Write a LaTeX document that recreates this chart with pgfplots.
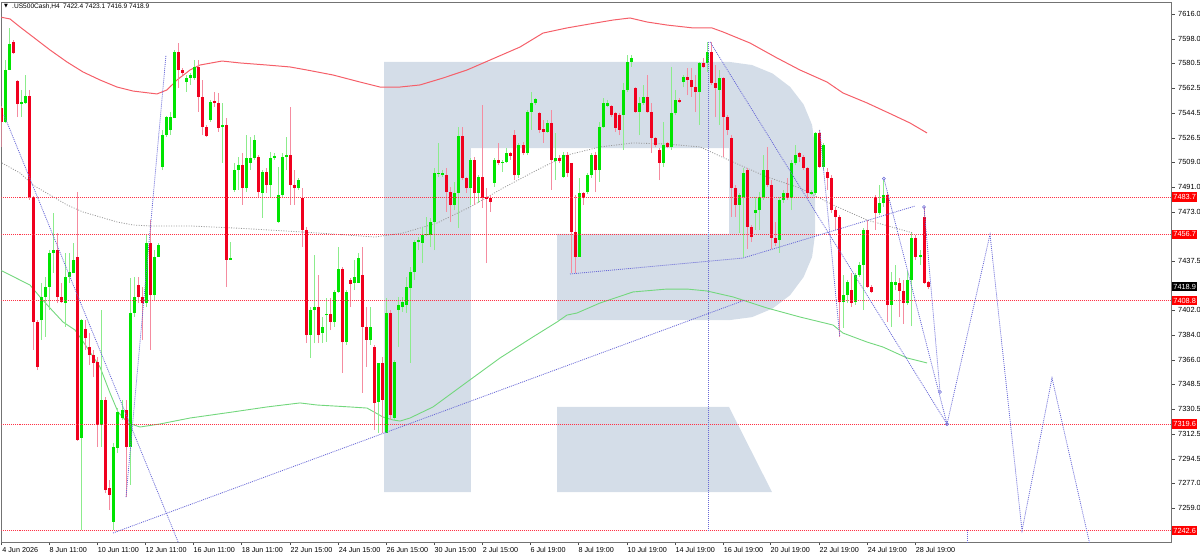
\documentclass[border=0pt]{standalone}
\usepackage{fontspec}
\setmainfont{Liberation Sans}
\newfontfamily\dejavu{DejaVu Sans}
\usepackage{pgfplots}
\pgfplotsset{compat=1.18}
\usepackage{pgfplotstable}

\definecolor{upbody}{RGB}{0,228,0}
\definecolor{upwick}{RGB}{140,236,140}
\definecolor{dnbody}{RGB}{240,0,30}
\definecolor{dnwick}{RGB}{245,140,160}
\definecolor{logo}{RGB}{212,221,232}
\definecolor{maRed}{RGB}{245,95,105}
\definecolor{maGreen}{RGB}{115,215,125}
\definecolor{maGrey}{RGB}{150,150,150}
\definecolor{trend}{RGB}{105,105,215}
\definecolor{lvl}{RGB}{255,50,70}

% up candles: index open high low close
\pgfplotstableread{
i o h l c
1 7537.9 7582.7 7537.2 7575.5
2 7575.5 7605.9 7575.5 7594.3
5 7550.9 7561.1 7541.5 7552.4
6 7551.7 7571.9 7550.9 7556.7
10 7394.8 7421.6 7380.4 7411.5
11 7411.5 7425.9 7382.6 7418.7
12 7418.7 7445.4 7402.1 7443.3
13 7443.3 7472.2 7428.8 7445.4
16 7407.1 7443.3 7389.8 7425.9
17 7425.9 7443.3 7421.6 7429.5
18 7428.8 7450.5 7428.8 7438.2
20 7309.6 7395.5 7243.1 7394.8
25 7319.0 7402.1 7303.1 7337.0
28 7248.9 7305.9 7243.1 7303.1
29 7302.3 7331.2 7298.7 7328.4
30 7324.0 7337.0 7322.6 7329.8
32 7303.1 7425.2 7275.6 7399.9
33 7399.9 7425.9 7397.0 7411.5
36 7407.1 7456.3 7404.2 7450.5
38 7412.9 7445.4 7409.3 7440.4
39 7440.4 7450.5 7440.4 7449.0
40 7505.4 7532.2 7503.2 7528.5
41 7528.5 7542.0 7527.1 7541.5
42 7532.2 7545.2 7528.5 7541.5
43 7540.8 7590.0 7540.8 7588.5
46 7566.8 7571.9 7559.6 7569.7
47 7569.7 7573.3 7564.7 7571.9
48 7569.7 7582.7 7568.3 7577.7
52 7539.4 7553.8 7537.9 7552.4
55 7534.3 7551.7 7508.3 7535.8
57 7438.2 7451.2 7438.2 7439.6
58 7488.8 7508.3 7487.3 7503.2
59 7503.2 7512.6 7488.8 7506.8
61 7490.2 7528.5 7487.3 7511.9
62 7508.3 7527.1 7503.2 7511.9
63 7511.9 7528.5 7510.5 7524.9
65 7486.6 7503.2 7468.6 7501.8
67 7492.4 7516.3 7483.7 7511.9
68 7511.9 7515.5 7510.5 7513.4
69 7465.7 7505.4 7464.9 7485.2
70 7485.2 7515.5 7483.0 7512.6
71 7512.6 7527.1 7503.2 7514.0
74 7490.2 7497.5 7488.8 7496.0
77 7384.0 7404.2 7367.4 7402.1
78 7402.1 7441.8 7378.2 7404.2
80 7385.4 7397.0 7378.2 7389.8
81 7398.4 7410.7 7378.9 7399.2
83 7393.4 7416.5 7389.8 7415.1
84 7415.1 7447.6 7414.3 7431.7
86 7378.9 7416.5 7376.8 7415.1
88 7421.6 7438.2 7416.5 7425.9
89 7421.6 7443.3 7421.6 7439.6
92 7380.4 7404.2 7376.8 7389.8
94 7335.6 7363.8 7313.2 7363.8
96 7313.2 7410.7 7313.2 7399.9
98 7324.0 7365.9 7322.6 7364.5
99 7402.1 7411.5 7375.3 7405.7
100 7404.2 7411.5 7400.6 7407.8
101 7405.7 7425.9 7399.9 7418.7
102 7418.0 7433.1 7363.8 7429.5
103 7429.5 7452.7 7423.7 7451.2
104 7451.2 7454.8 7445.4 7452.7
105 7450.5 7462.1 7436.0 7456.3
106 7456.3 7469.3 7455.5 7457.0
107 7456.3 7468.6 7447.6 7465.7
108 7465.7 7504.7 7445.4 7501.1
109 7500.3 7522.8 7498.2 7501.1
110 7499.6 7503.2 7498.2 7501.1
113 7478.0 7494.6 7474.3 7486.6
114 7486.6 7534.3 7461.3 7527.8
117 7490.2 7511.9 7478.0 7510.5
119 7486.6 7499.6 7479.4 7498.2
123 7493.9 7511.9 7491.0 7510.5
125 7508.3 7510.5 7501.8 7509.0
126 7509.0 7519.1 7508.3 7515.5
129 7499.6 7522.8 7497.5 7521.3
131 7515.5 7546.6 7514.0 7545.2
132 7545.2 7559.6 7532.2 7551.7
133 7551.7 7555.3 7550.2 7554.6
136 7530.7 7539.4 7529.9 7537.2
138 7509.7 7529.9 7496.0 7511.9
140 7498.2 7516.3 7497.5 7514.0
144 7440.4 7497.5 7440.4 7486.6
146 7487.3 7501.1 7485.9 7499.6
147 7499.6 7515.5 7497.5 7514.0
149 7503.2 7537.9 7494.6 7534.3
150 7534.3 7555.3 7533.6 7551.7
151 7549.5 7553.8 7548.8 7551.7
155 7542.9 7566.1 7517.7 7561.1
156 7561.1 7586.4 7559.6 7581.3
157 7581.3 7586.4 7577.7 7584.2
159 7545.2 7556.0 7528.5 7551.7
160 7551.7 7564.7 7550.2 7556.0
165 7508.3 7537.9 7505.4 7521.3
167 7519.9 7577.7 7517.7 7544.4
168 7544.4 7561.1 7542.9 7553.8
170 7566.8 7571.9 7563.2 7570.5
174 7559.6 7581.3 7535.8 7580.6
176 7580.6 7595.8 7574.1 7588.5
179 7561.1 7575.5 7535.8 7569.7
184 7478.0 7486.6 7457.7 7485.2
185 7483.7 7504.7 7440.4 7501.1
188 7472.2 7483.7 7459.9 7474.3
189 7474.3 7487.3 7459.9 7483.7
190 7483.7 7514.0 7481.6 7503.2
194 7452.7 7483.7 7443.3 7481.6
195 7481.6 7488.8 7479.4 7486.6
197 7483.0 7510.5 7474.3 7508.3
198 7508.3 7521.3 7506.8 7514.0
202 7485.9 7488.8 7485.2 7487.3
203 7486.6 7530.7 7485.2 7529.9
205 7505.4 7522.8 7503.2 7521.3
210 7407.8 7427.4 7389.1 7412.9
211 7412.9 7423.7 7407.1 7422.3
213 7407.8 7428.8 7405.7 7427.4
214 7427.4 7436.8 7425.9 7434.6
215 7434.6 7461.3 7402.1 7459.9
219 7472.2 7492.4 7470.7 7479.4
220 7479.4 7496.0 7476.5 7485.2
222 7405.7 7429.5 7389.8 7422.3
223 7420.1 7434.6 7416.5 7422.3
226 7407.1 7430.2 7405.7 7423.7
227 7423.7 7457.7 7390.4 7454.1
229 7440.4 7445.4 7434.6 7441.8
}\upc

% down candles: index open high low close
\pgfplotstableread{
i o h l c
0 7548.1 7549.5 7519.9 7537.9
3 7595.8 7597.2 7587.1 7587.8
4 7567.6 7568.3 7541.5 7550.9
7 7556.7 7561.1 7481.6 7483.7
8 7483.7 7484.5 7373.2 7393.4
9 7393.4 7394.8 7358.7 7360.9
14 7445.4 7457.7 7407.1 7411.5
15 7411.5 7421.6 7407.1 7407.8
19 7440.4 7487.3 7307.4 7308.1
21 7388.3 7394.8 7373.2 7381.8
22 7375.3 7385.4 7362.3 7369.5
23 7369.5 7373.2 7353.6 7363.8
24 7364.5 7368.1 7303.1 7319.0
26 7337.0 7339.2 7269.8 7272.0
27 7273.4 7279.2 7257.5 7268.4
31 7329.8 7337.0 7266.9 7303.1
34 7420.1 7425.9 7407.1 7411.5
35 7411.5 7418.7 7380.4 7407.1
37 7450.5 7467.1 7373.2 7412.9
44 7588.5 7595.0 7562.5 7575.5
45 7575.5 7577.0 7571.9 7573.3
49 7577.7 7582.7 7545.2 7556.0
50 7556.0 7568.3 7528.5 7534.3
51 7534.3 7535.8 7527.1 7527.8
53 7553.1 7559.6 7548.8 7551.7
54 7551.7 7558.9 7530.7 7533.6
56 7535.8 7540.8 7418.7 7438.2
60 7506.8 7515.5 7478.0 7490.2
64 7512.6 7514.0 7483.7 7487.3
66 7501.8 7504.7 7486.6 7492.4
72 7514.0 7548.8 7478.0 7492.4
73 7492.4 7503.2 7478.0 7490.2
75 7483.0 7490.2 7447.6 7459.9
76 7459.9 7462.1 7378.2 7384.0
79 7404.2 7427.4 7378.2 7384.0
82 7399.2 7410.7 7387.6 7393.4
85 7431.7 7433.1 7356.5 7378.9
87 7423.7 7425.2 7404.2 7420.9
90 7427.4 7447.6 7342.1 7389.8
91 7389.8 7404.2 7360.9 7380.4
93 7375.3 7376.8 7315.3 7334.9
95 7363.8 7368.1 7313.2 7337.0
97 7399.9 7402.1 7322.6 7326.2
111 7499.6 7504.7 7472.9 7487.3
112 7487.3 7491.0 7465.7 7478.0
115 7527.8 7534.3 7496.0 7497.5
116 7497.5 7498.2 7486.6 7490.2
118 7510.5 7512.6 7478.0 7486.6
120 7498.2 7550.2 7475.8 7483.0
121 7483.7 7490.2 7436.0 7482.3
122 7483.0 7485.2 7472.9 7480.1
124 7510.5 7522.8 7506.8 7508.3
127 7515.5 7516.3 7510.5 7513.4
128 7528.5 7532.2 7496.0 7499.6
130 7521.3 7523.5 7514.0 7515.5
134 7544.4 7545.2 7529.9 7532.2
135 7532.9 7539.4 7522.8 7530.7
137 7537.2 7546.6 7488.8 7510.5
139 7511.9 7514.0 7508.3 7509.7
141 7514.0 7516.3 7498.2 7501.1
142 7508.3 7508.3 7428.8 7458.4
143 7458.4 7485.2 7428.8 7440.4
145 7486.6 7487.3 7478.0 7483.0
148 7514.0 7516.3 7487.3 7503.2
152 7549.5 7550.2 7541.5 7542.9
153 7544.4 7545.2 7530.7 7533.6
154 7542.9 7544.4 7528.5 7532.2
158 7562.5 7563.2 7544.5 7545.2
161 7556.0 7571.9 7544.5 7545.2
162 7545.2 7551.7 7515.5 7526.4
163 7526.4 7527.1 7519.9 7521.3
164 7517.7 7519.1 7496.0 7508.3
166 7522.8 7523.5 7519.1 7519.9
169 7553.8 7555.3 7551.7 7552.4
171 7570.5 7577.0 7557.4 7568.3
172 7568.3 7577.0 7556.0 7563.2
173 7563.2 7571.9 7545.2 7559.6
175 7580.6 7584.2 7577.0 7577.7
177 7588.5 7595.8 7564.7 7566.1
178 7566.1 7579.1 7541.5 7562.5
180 7569.7 7570.5 7512.6 7541.5
181 7541.5 7542.9 7528.5 7532.2
182 7526.4 7528.5 7469.3 7490.2
183 7490.2 7492.4 7469.3 7478.0
186 7503.2 7504.7 7446.3 7462.1
187 7462.1 7463.5 7451.2 7454.8
191 7503.2 7519.9 7491.0 7492.4
192 7492.4 7495.8 7446.3 7454.1
193 7454.1 7465.7 7448.5 7450.5
196 7486.6 7497.5 7481.6 7483.0
199 7515.5 7516.3 7509.0 7512.6
200 7512.6 7514.0 7503.2 7504.7
201 7504.7 7505.4 7483.0 7486.6
204 7529.9 7532.2 7504.7 7505.4
206 7501.8 7504.7 7488.8 7497.5
207 7497.5 7499.6 7472.2 7474.3
208 7474.3 7476.5 7459.9 7469.3
209 7469.3 7470.7 7382.6 7407.8
212 7416.5 7428.8 7404.2 7407.1
216 7459.9 7467.1 7418.0 7418.7
217 7418.7 7420.1 7414.3 7415.1
218 7483.7 7485.2 7459.9 7472.2
221 7485.2 7487.3 7393.4 7405.7
224 7421.6 7425.2 7397.0 7415.8
225 7415.8 7423.7 7392.0 7407.1
228 7454.1 7456.3 7438.2 7440.4
230 7469.3 7476.5 7421.0 7421.6
231 7422.4 7423.1 7416.9 7418.9
}\dnc

\begin{document}
\begin{tikzpicture}
\useasboundingbox (-1.5pt,-13pt) rectangle (1198.5pt,542pt);
\begin{axis}[
  scale only axis, width=1170pt, height=540pt,
  xmin=-0.05, xmax=291.72, ymin=7234.4, ymax=7624.65,
  clip mode=individual,
  axis line style={draw=black!55, line width=0.8pt},
  tick align=outside, major tick length=3pt,
  tick style={black!70, line width=0.6pt},
  xtick pos=bottom, ytick pos=right, yticklabel pos=right,
  ytick={7259,7277,7294.5,7312.5,7330.5,7348.5,7366,7384,7402,7437.5,7473,7491,7509,7526.5,7544.5,7562.5,7580.5,7598,7616},
  yticklabels={7259.0,7277.0,7294.5,7312.5,7330.5,7348.5,7366.0,7384.0,7402.0,7437.5,7473.0,7491.0,7509.0,7526.5,7544.5,7562.5,7580.5,7598.0,7616.0},
  yticklabel style={font=\fontsize{7.4}{8.5}\selectfont, anchor=west, inner sep=0pt, xshift=3.5pt},
  xtick={0,11.8,23.8,35.7,47.7,59.7,71.9,83.9,95.8,107.8,119.8,131.7,143.7,155.9,167.9,179.9,191.6,203.8,215.8,227.8},
  xticklabels={4 Jun 2026,8 Jun 11:00,10 Jun 11:00,12 Jun 11:00,16 Jun 11:00,18 Jun 11:00,22 Jun 15:00,24 Jun 15:00,26 Jun 15:00,30 Jun 15:00,2 Jul 15:00,6 Jul 19:00,8 Jul 19:00,10 Jul 19:00,14 Jul 19:00,16 Jul 19:00,20 Jul 19:00,22 Jul 19:00,24 Jul 19:00,28 Jul 19:00},
  xticklabel style={font=\fontsize{7.2}{8.5}\selectfont, anchor=north west, inner sep=0pt, xshift=0.5pt, yshift=-2.5pt},
]
% background logo
\addplot[fill=logo, draw=none, forget plot] coordinates {
 (95.34,7581.3) (181.62,7581.3) (187.11,7579.1) (192.22,7573.0) (196.61,7563.3)
 (199.98,7550.6) (202.09,7535.8) (202.82,7519.9) (202.82,7456.3) (202.09,7440.4)
 (199.98,7425.9) (196.61,7412.8) (192.22,7403.1) (187.11,7396.9) (181.62,7394.8)
 (138.48,7394.8) (138.48,7457.0) (181.37,7457.0) (181.37,7519.1) (117.03,7519.1)
 (117.03,7270.5) (95.34,7270.5)} -- cycle;
\addplot[fill=logo, draw=none, forget plot] coordinates {
 (138.48,7332.0) (181.37,7332.0) (192.09,7270.5) (138.48,7270.5)} -- cycle;

% moving averages
\addplot[maRed, line width=1pt, forget plot] coordinates {
 (-0.42,7613.8) (2.07,7612.4) (4.56,7606.6) (7.81,7599.4) (12.04,7590.0) (16.28,7581.3)
 (20.27,7574.1) (24.51,7568.3) (28.75,7563.2) (32.74,7560.3) (38.73,7558.2) (41.22,7561.1)
 (43.72,7568.3) (46.96,7575.5) (49.45,7579.1) (54.94,7582.0) (59.43,7580.6) (66.16,7579.1)
 (71.90,7577.7) (76.13,7575.5) (82.62,7571.9) (89.36,7566.8) (94.34,7563.2) (99.33,7563.2)
 (104.31,7564.7) (110.05,7569.7) (116.03,7575.5) (121.77,7582.7) (129.25,7592.1) (134.99,7602.2)
 (140.97,7605.9) (146.71,7608.8) (152.44,7611.6) (156.68,7613.1) (160.92,7610.2) (165.91,7608.0)
 (172.39,7605.9) (177.13,7605.9) (179.88,7603.0) (186.61,7595.0) (193.34,7584.2) (199.08,7575.5)
 (205.81,7566.8) (209.80,7558.9) (215.79,7551.7) (222.27,7543.0) (226.51,7537.2) (230.75,7530.0)};
\addplot[maGreen, line width=0.9pt, forget plot] coordinates {
 (-0.42,7431.0) (7.06,7420.1) (9.55,7411.5) (12.04,7403.5) (15.29,7393.4) (18.28,7387.6)
 (20.02,7380.4) (22.02,7371.7) (24.51,7360.9) (27.01,7342.1) (29.0,7328.4) (31.5,7320.4)
 (34.49,7317.5) (39.48,7319.7) (46.96,7324.0) (57.68,7328.4) (66.16,7332.0) (74.39,7334.9)
 (78.63,7333.4) (86.86,7332.0) (91.1,7331.2) (95.09,7324.7) (97.58,7322.6) (99.33,7321.8)
 (101.82,7324.0) (107.56,7332.0) (116.03,7350.0) (124.27,7367.4) (132.49,7382.6) (138.48,7393.4)
 (140.97,7398.4) (143.47,7399.9) (149.2,7407.1) (157.43,7415.1) (165.91,7417.2) (170.9,7417.2)
 (175.89,7415.8) (182.37,7411.5) (190.85,7403.5) (199.08,7397.0) (207.31,7391.2) (209.8,7385.4)
 (215.79,7378.9) (219.78,7375.3) (225.77,7367.4) (230.75,7363.8)};
\addplot[maGrey, line width=0.8pt, dash pattern=on 1pt off 1.5pt, forget plot] coordinates {
 (0.07,7508.3) (4.56,7501.1) (7.81,7492.4) (12.04,7485.2) (16.28,7478.0) (20.27,7472.9)
 (24.51,7469.3) (28.75,7465.7) (32.74,7463.5) (36.98,7462.8) (46.96,7462.8) (58.18,7461.3)
 (70.65,7459.2) (78.88,7457.7) (93.09,7454.8) (100.07,7457.7) (108.55,7464.9) (116.78,7476.5)
 (125.01,7490.2) (133.49,7503.2) (140.97,7514.0) (149.2,7519.9) (157.43,7522.8) (165.91,7522.0)
 (174.14,7519.9) (182.37,7509.0) (190.85,7498.2) (199.08,7490.2) (207.31,7478.0) (215.79,7467.1)
 (227.26,7457.7)};

% candle wicks
\addplot[draw=none, mark=none, forget plot, error bars/.cd, y dir=plus, y explicit, error mark=none,
  error bar style={draw=upwick, line width=1pt}]
  table[x=i, y=l, y error expr={\thisrow{h}-\thisrow{l}}] {\upc};
\addplot[draw=none, mark=none, forget plot, error bars/.cd, y dir=plus, y explicit, error mark=none,
  error bar style={draw=dnwick, line width=1pt}]
  table[x=i, y=l, y error expr={\thisrow{h}-\thisrow{l}}] {\dnc};
% candle bodies
\addplot[draw=none, mark=none, forget plot, error bars/.cd, y dir=plus, y explicit, error mark=none,
  error bar style={draw=upbody, line width=3pt}]
  table[x=i, y=o, y error expr={max(\thisrow{c}-\thisrow{o},0.6)}] {\upc};
\addplot[draw=none, mark=none, forget plot, error bars/.cd, y dir=plus, y explicit, error mark=none,
  error bar style={draw=dnbody, line width=3pt}]
  table[x=i, y=c, y error expr={max(\thisrow{o}-\thisrow{c},0.6)}] {\dnc};

% horizontal levels
\addplot[lvl, line width=0.9pt, dash pattern=on 1pt off 1pt, forget plot] coordinates {(-0.05,7483.7) (291.72,7483.7)};
\addplot[lvl, line width=0.9pt, dash pattern=on 1pt off 1pt, forget plot] coordinates {(-0.05,7456.7) (291.72,7456.7)};
\addplot[lvl, line width=0.9pt, dash pattern=on 1pt off 1pt, forget plot] coordinates {(-0.05,7408.8) (291.72,7408.8)};
\addplot[lvl, line width=0.9pt, dash pattern=on 1pt off 1pt, forget plot] coordinates {(-0.05,7319.6) (291.72,7319.6)};
\addplot[lvl, line width=0.9pt, dash pattern=on 1pt off 1pt, forget plot] coordinates {(-0.05,7242.6) (291.72,7242.6)};

% trend / forecast lines
\addplot[trend, line width=0.8pt, dash pattern=on 1pt off 1pt, forget plot] coordinates {(0.57,7543.0) (44.5,7230.8)};
\addplot[trend, line width=0.8pt, dash pattern=on 1pt off 1pt, forget plot] coordinates {(31.0,7266.9) (40.97,7586.4)};
\addplot[trend, line width=0.8pt, dash pattern=on 1pt off 1pt, forget plot] coordinates {(27.76,7240.9) (185.36,7409.3)};
\addplot[trend, line width=0.8pt, dash pattern=on 1pt off 1pt, forget plot] coordinates {(141.72,7428.1) (184.86,7439.6) (227.77,7477.2)};
\addplot[trend, line width=0.8pt, dash pattern=on 1pt off 1pt, forget plot] coordinates {(176.13,7595.8) (176.13,7243.1)};
\addplot[trend, line width=0.8pt, dash pattern=on 1pt off 1pt, forget plot] coordinates {(176.63,7595.8) (235.74,7319.6)};
\addplot[trend, line width=0.8pt, dash pattern=on 1pt off 1pt, forget plot] coordinates {(204,7532.2) (209,7382.6)};
\addplot[trend, line width=0.8pt, dash pattern=on 1pt off 1pt, forget plot] coordinates {(220,7497.0) (235.74,7319.6)};
\addplot[trend, line width=0.8pt, dash pattern=on 1pt off 1pt, forget plot] coordinates {(230,7476.5) (234,7342.8)};
\addplot[trend, line width=0.8pt, dash pattern=on 1pt off 1pt, forget plot] coordinates {(235.74,7319.6) (246.46,7456.7) (254.44,7242.6) (261.92,7352.9) (271.4,7232.2)};
\addplot[trend, line width=0.8pt, dash pattern=on 1pt off 1pt, forget plot] coordinates {(240.73,7243.1) (240.73,7232.0)};
\addplot[trend, only marks, mark=o, mark size=1.5pt, mark options={line width=0.6pt}, forget plot] coordinates {(220,7497.0) (230,7476.5) (235.74,7319.6) (234,7342.8)};

% price labels on the scale
\node[anchor=west, fill=red, text=white, inner sep=0pt, minimum width=25pt, minimum height=9.5pt, font=\fontsize{7.4}{8}\selectfont] at (axis cs:291.72,7483.7) [xshift=0.5pt] {7483.7};
\node[anchor=west, fill=red, text=white, inner sep=0pt, minimum width=25pt, minimum height=9.5pt, font=\fontsize{7.4}{8}\selectfont] at (axis cs:291.72,7456.7) [xshift=0.5pt] {7456.7};
\node[anchor=west, fill=black, text=white, inner sep=0pt, minimum width=25pt, minimum height=9.5pt, font=\fontsize{7.4}{8}\selectfont] at (axis cs:291.72,7418.9) [xshift=0.5pt] {7418.9};
\node[anchor=west, fill=red, text=white, inner sep=0pt, minimum width=25pt, minimum height=9.5pt, font=\fontsize{7.4}{8}\selectfont] at (axis cs:291.72,7408.8) [xshift=0.5pt] {7408.8};
\node[anchor=west, fill=red, text=white, inner sep=0pt, minimum width=25pt, minimum height=9.5pt, font=\fontsize{7.4}{8}\selectfont] at (axis cs:291.72,7319.6) [xshift=0.5pt] {7319.6};
\node[anchor=west, fill=red, text=white, inner sep=0pt, minimum width=25pt, minimum height=9.5pt, font=\fontsize{7.4}{8}\selectfont] at (axis cs:291.72,7242.6) [xshift=0.5pt] {7242.6};

% header
\node[anchor=west, inner sep=0pt, font=\dejavu\fontsize{5}{5}\selectfont] at (rel axis cs:0,1) [xshift=2.5pt, yshift=-4.5pt] {▼};
\node[anchor=west, inner sep=0pt, font=\fontsize{6.6}{7}\selectfont] at (rel axis cs:0,1) [xshift=10.5pt, yshift=-4.5pt] {.US500Cash,H4\enspace 7422.4 7423.1 7416.9 7418.9};
\end{axis}
\end{tikzpicture}
\end{document}
